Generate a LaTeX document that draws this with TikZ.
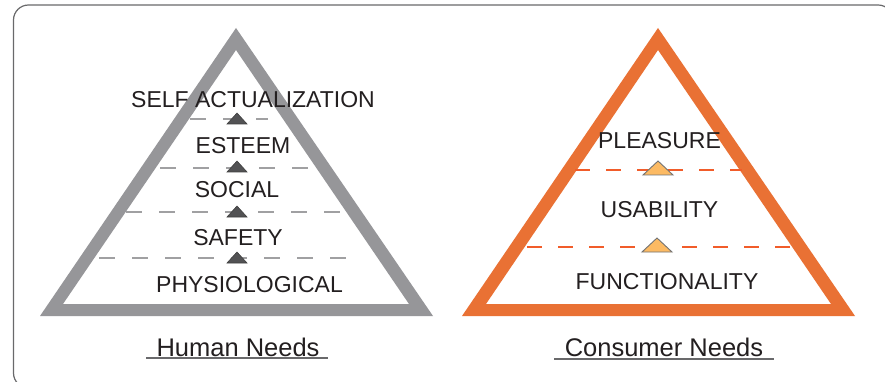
\documentclass[tikz,border=0pt]{standalone}
\usepackage{fontspec}
\setmainfont{Liberation Sans}
\usepackage{tikz}
\usetikzlibrary{positioning}

\definecolor{pyrgray}{RGB}{150,150,153}
\definecolor{pyrorange}{RGB}{233,113,52}
\definecolor{dashgray}{RGB}{160,160,162}
\definecolor{dashorange}{RGB}{241,92,42}
\definecolor{markdark}{RGB}{82,82,84}
\definecolor{markorange}{RGB}{252,186,99}
\definecolor{framegray}{RGB}{105,105,107}
\definecolor{textdark}{RGB}{35,31,32}

\begin{document}
\begin{tikzpicture}[x=1pt,y=-1pt,
  level/.style={inner sep=0pt,text=textdark,font=\fontsize{23}{27}\selectfont},
  title/.style={inner sep=0pt,text=textdark,font=\fontsize{25.5}{30}\selectfont},
  graydash/.style={dashgray,line width=2.2pt,dash pattern=on 16pt off 17pt},
  orangedash/.style={dashorange,line width=2.2pt,dash pattern=on 15pt off 16pt},
  darkmark/.style={fill=markdark,draw=black!75,line width=0.6pt,line join=miter},
  orangemark/.style={fill=markorange,draw=black!55,line width=0.9pt,line join=miter}]
\clip (0,0) rectangle (885,382);
\fill [white] (0,0) rectangle (885,382);
% frame
\draw [framegray,line width=1.2pt,rounded corners=15pt] (13.5,5) rectangle (893,388);
% human needs pyramid
\fill [pyrgray,even odd rule] (40,316) -- (236,28) -- (433,316) -- cycle
  (63,304) -- (236,50) -- (409,304) -- cycle;
\draw [graydash] (190,119) -- (268,119);
\draw [graydash] (160,168) -- (312,168);
\draw [graydash] (126,212) -- (345,212);
\draw [graydash] (99,258) -- (362,258);
\draw [darkmark] (237,113) -- (247,124) -- (227,124) -- cycle;
\draw [darkmark] (237,161) -- (247,172) -- (227,172) -- cycle;
\draw [darkmark] (237,206) -- (247,217) -- (227,217) -- cycle;
\draw [darkmark] (237,252) -- (247,263) -- (227,263) -- cycle;
\node [level] (selfact) at (253,99.5) {SELF ACTUALIZATION};
\node [level] (esteem) at (243,146) {ESTEEM};
\node [level] (social) at (237,190) {SOCIAL};
\node [level] (safety) at (238,238) {SAFETY};
\node [level] (physio) at (249.5,285) {PHYSIOLOGICAL};
\node [title] (human) at (238,347) {Human Needs};
\draw [framegray,line width=1.5pt] (146,358) -- (328,358);
% consumer needs pyramid
\fill [pyrorange,even odd rule] (462,316) -- (658,28) -- (855,316) -- cycle
  (486,304) -- (658,50) -- (831,304) -- cycle;
\draw [orangedash] (575,170) -- (742,170);
\draw [orangedash] (527,247) -- (790,247);
\draw [orangemark] (658,161) -- (673,175) -- (643,175) -- cycle;
\draw [orangemark] (657,238) -- (672,252) -- (642,252) -- cycle;
\node [level] (pleasure) at (659.5,141) {PLEASURE};
\node [level] (usability) at (659.5,210) {USABILITY};
\node [level] (function) at (667,282) {FUNCTIONALITY};
\node [title] (consumer) at (664,347) {Consumer Needs};
\draw [framegray,line width=1.5pt] (554,359) -- (774,359);
\end{tikzpicture}
\end{document}
